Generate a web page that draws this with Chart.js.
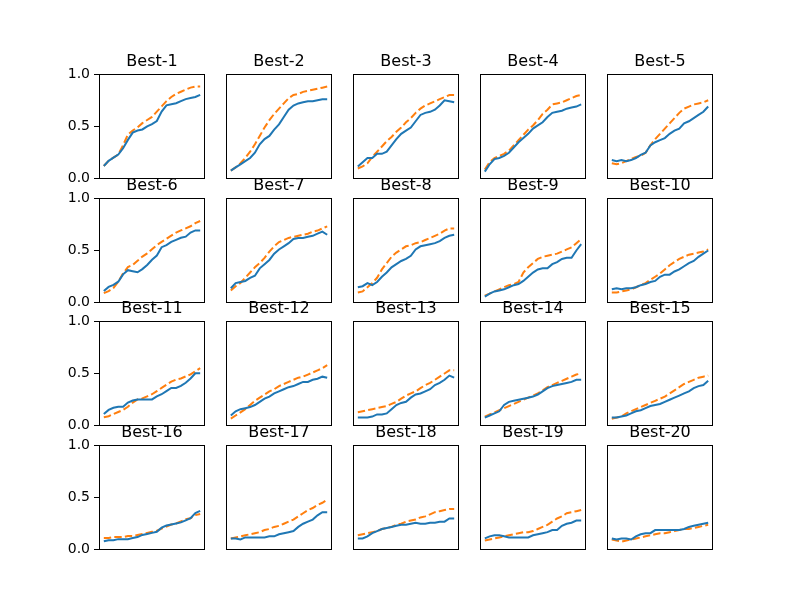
<!DOCTYPE html>
<html>
<head>
<meta charset="utf-8">
<script src="https://cdn.jsdelivr.net/npm/chart.js@4"></script>
<style>
  body { margin: 0; background: #fff; }
  #fig { position: relative; width: 792px; height: 616px; background: #fff; overflow: hidden; }
  #fig canvas { position: absolute; }
</style>
</head>
<body>
<div id="fig"></div>
<script>
// Panel titles
var titles = ['Best-1', 'Best-2', 'Best-3', 'Best-4', 'Best-5',
	'Best-6', 'Best-7', 'Best-8', 'Best-9', 'Best-10',
	'Best-11', 'Best-12', 'Best-13', 'Best-14', 'Best-15',
	'Best-16', 'Best-17', 'Best-18', 'Best-19', 'Best-20'];

var yTicks = [0.0, 0.5, 1.0];

// Solid blue series, one per panel
var blue1 = [0.12,0.17,0.20,0.23,0.29,0.37,0.44,0.46,0.47,0.50,0.52,0.55,0.64,0.70,0.71,0.72,0.74,0.76,0.77,0.78,0.80];
var blue2 = [0.08,0.11,0.14,0.17,0.20,0.25,0.33,0.38,0.41,0.47,0.52,0.59,0.66,0.70,0.72,0.73,0.74,0.74,0.75,0.76,0.76];
var blue3 = [0.12,0.16,0.20,0.20,0.24,0.24,0.26,0.32,0.38,0.43,0.46,0.49,0.55,0.61,0.63,0.64,0.66,0.70,0.75,0.74,0.73];
var blue4 = [0.07,0.14,0.19,0.20,0.22,0.25,0.30,0.35,0.39,0.43,0.48,0.51,0.54,0.59,0.63,0.64,0.65,0.67,0.68,0.69,0.71];
var blue5 = [0.18,0.17,0.18,0.17,0.18,0.20,0.23,0.25,0.32,0.35,0.37,0.39,0.43,0.46,0.48,0.53,0.55,0.58,0.61,0.64,0.69];
var blue6 = [0.11,0.15,0.17,0.20,0.27,0.31,0.30,0.29,0.32,0.36,0.41,0.45,0.53,0.55,0.58,0.60,0.62,0.63,0.67,0.69,0.69];
var blue7 = [0.14,0.19,0.20,0.21,0.24,0.26,0.33,0.37,0.41,0.47,0.51,0.54,0.57,0.61,0.62,0.62,0.63,0.64,0.66,0.68,0.65];
var blue8 = [0.15,0.16,0.19,0.17,0.20,0.25,0.29,0.34,0.37,0.40,0.42,0.45,0.51,0.54,0.55,0.56,0.57,0.59,0.62,0.64,0.65];
var blue9 = [0.06,0.09,0.11,0.12,0.13,0.15,0.17,0.18,0.21,0.25,0.29,0.32,0.33,0.33,0.37,0.39,0.42,0.43,0.43,0.50,0.56];
var blue10 = [0.13,0.14,0.13,0.14,0.14,0.15,0.17,0.18,0.20,0.21,0.25,0.27,0.27,0.30,0.32,0.35,0.38,0.40,0.44,0.47,0.50];
var blue11 = [0.11,0.15,0.17,0.18,0.18,0.22,0.24,0.25,0.25,0.25,0.25,0.28,0.30,0.33,0.36,0.36,0.38,0.41,0.45,0.50,0.50];
var blue12 = [0.10,0.14,0.16,0.17,0.18,0.20,0.23,0.26,0.28,0.31,0.33,0.35,0.37,0.38,0.40,0.42,0.42,0.44,0.45,0.47,0.46];
var blue13 = [0.08,0.08,0.08,0.09,0.11,0.11,0.12,0.16,0.20,0.22,0.23,0.27,0.30,0.31,0.33,0.35,0.39,0.41,0.44,0.48,0.46];
var blue14 = [0.08,0.10,0.12,0.14,0.20,0.23,0.24,0.25,0.26,0.27,0.28,0.30,0.33,0.36,0.38,0.39,0.40,0.41,0.42,0.44,0.44];
var blue15 = [0.08,0.08,0.09,0.10,0.12,0.14,0.15,0.17,0.19,0.20,0.21,0.23,0.25,0.27,0.29,0.31,0.33,0.36,0.38,0.39,0.43];
var blue16 = [0.08,0.09,0.09,0.10,0.10,0.10,0.11,0.12,0.14,0.15,0.16,0.17,0.21,0.23,0.24,0.25,0.26,0.28,0.30,0.35,0.37];
var blue17 = [0.11,0.11,0.10,0.12,0.12,0.12,0.12,0.12,0.13,0.13,0.15,0.16,0.17,0.18,0.22,0.25,0.27,0.29,0.33,0.36,0.36];
var blue18 = [0.11,0.11,0.13,0.16,0.18,0.20,0.21,0.22,0.23,0.24,0.24,0.25,0.26,0.25,0.25,0.26,0.26,0.27,0.27,0.30,0.30];
var blue19 = [0.11,0.13,0.14,0.14,0.13,0.12,0.12,0.12,0.12,0.12,0.14,0.15,0.16,0.17,0.19,0.19,0.23,0.25,0.26,0.28,0.28];
var blue20 = [0.11,0.10,0.11,0.11,0.10,0.13,0.15,0.16,0.16,0.19,0.19,0.19,0.19,0.19,0.19,0.20,0.22,0.23,0.24,0.25,0.26];

// Dashed orange series, one per panel
var orange1 = [0.12,0.17,0.20,0.23,0.32,0.42,0.46,0.49,0.53,0.56,0.59,0.64,0.69,0.74,0.78,0.81,0.83,0.85,0.87,0.88,0.88];
var orange2 = [0.08,0.11,0.15,0.20,0.26,0.33,0.41,0.49,0.56,0.62,0.67,0.72,0.77,0.80,0.81,0.83,0.84,0.85,0.86,0.87,0.88];
var orange3 = [0.10,0.12,0.15,0.21,0.26,0.31,0.36,0.40,0.45,0.49,0.54,0.58,0.63,0.67,0.70,0.72,0.74,0.76,0.78,0.80,0.80];
var orange4 = [0.09,0.16,0.20,0.22,0.24,0.27,0.32,0.37,0.42,0.47,0.51,0.56,0.62,0.66,0.71,0.72,0.73,0.75,0.77,0.79,0.80];
var orange5 = [0.15,0.14,0.15,0.17,0.19,0.21,0.22,0.25,0.32,0.38,0.43,0.48,0.53,0.58,0.63,0.67,0.69,0.71,0.72,0.73,0.75];
var orange6 = [0.09,0.11,0.14,0.20,0.28,0.34,0.36,0.40,0.44,0.47,0.51,0.55,0.58,0.61,0.64,0.67,0.69,0.71,0.73,0.76,0.78];
var orange7 = [0.12,0.16,0.19,0.24,0.29,0.34,0.38,0.43,0.49,0.54,0.58,0.60,0.62,0.63,0.64,0.65,0.66,0.68,0.69,0.71,0.73];
var orange8 = [0.10,0.11,0.15,0.19,0.24,0.32,0.38,0.44,0.48,0.51,0.54,0.55,0.57,0.58,0.60,0.62,0.64,0.66,0.69,0.71,0.71];
var orange9 = [0.07,0.09,0.11,0.13,0.15,0.17,0.18,0.20,0.29,0.34,0.38,0.42,0.44,0.45,0.46,0.47,0.49,0.51,0.53,0.57,0.61];
var orange10 = [0.10,0.10,0.11,0.12,0.13,0.15,0.17,0.19,0.22,0.25,0.28,0.32,0.36,0.39,0.42,0.44,0.46,0.47,0.48,0.49,0.51];
var orange11 = [0.08,0.09,0.11,0.13,0.15,0.18,0.22,0.25,0.26,0.28,0.30,0.33,0.36,0.39,0.42,0.44,0.45,0.47,0.49,0.52,0.55];
var orange12 = [0.07,0.10,0.13,0.16,0.20,0.24,0.27,0.30,0.33,0.35,0.38,0.40,0.42,0.44,0.46,0.47,0.49,0.51,0.53,0.55,0.58];
var orange13 = [0.13,0.14,0.15,0.16,0.17,0.18,0.19,0.21,0.23,0.26,0.29,0.31,0.33,0.36,0.39,0.41,0.44,0.47,0.50,0.53,0.53];
var orange14 = [0.09,0.11,0.13,0.15,0.17,0.19,0.21,0.23,0.25,0.27,0.29,0.31,0.34,0.37,0.39,0.41,0.43,0.45,0.47,0.49,0.50];
var orange15 = [0.07,0.08,0.09,0.12,0.14,0.16,0.18,0.20,0.22,0.24,0.26,0.28,0.31,0.34,0.37,0.40,0.42,0.44,0.46,0.47,0.48];
var orange16 = [0.11,0.11,0.12,0.12,0.12,0.13,0.13,0.14,0.15,0.16,0.17,0.18,0.20,0.22,0.24,0.25,0.27,0.29,0.30,0.33,0.34];
var orange17 = [0.11,0.12,0.13,0.14,0.15,0.16,0.17,0.19,0.20,0.22,0.23,0.25,0.27,0.29,0.32,0.35,0.38,0.40,0.43,0.45,0.48];
var orange18 = [0.14,0.15,0.16,0.17,0.18,0.20,0.21,0.22,0.24,0.25,0.27,0.28,0.29,0.31,0.32,0.34,0.36,0.37,0.38,0.39,0.39];
var orange19 = [0.09,0.10,0.11,0.12,0.13,0.14,0.15,0.16,0.17,0.17,0.18,0.20,0.22,0.24,0.27,0.30,0.32,0.35,0.36,0.37,0.38];
var orange20 = [0.10,0.09,0.08,0.09,0.10,0.11,0.12,0.13,0.14,0.15,0.16,0.16,0.17,0.18,0.19,0.20,0.20,0.21,0.22,0.23,0.24];

var blueSeries = [blue1, blue2, blue3, blue4, blue5, blue6, blue7, blue8, blue9, blue10,
	blue11, blue12, blue13, blue14, blue15, blue16, blue17, blue18, blue19, blue20];
var orangeSeries = [orange1, orange2, orange3, orange4, orange5, orange6, orange7, orange8, orange9, orange10,
	orange11, orange12, orange13, orange14, orange15, orange16, orange17, orange18, orange19, orange20];

// Grid geometry (matplotlib-like subplot layout), whole pixels
var plotW = 106, plotH = 105;
var colLeft = [99, 226, 353, 480, 607];
var rowTop = [74, 198, 321, 445];
var padL = 45, padR = 6, titleH = 22, padB = 12;

// draw the black box round each axes
var framePlugin = {
	id: 'frame',
	afterDraw: function(chart) {
		var a = chart.chartArea, c = chart.ctx;
		c.save();
		c.strokeStyle = '#000';
		c.lineWidth = 1;
		c.strokeRect(Math.round(a.left) + 0.5, Math.round(a.top) + 0.5,
			Math.round(a.right - a.left) - 1, Math.round(a.bottom - a.top) - 1);
		c.restore();
	}
};

var fig = document.getElementById('fig');

titles.forEach(function(title, k) {
	var col = k % 5, row = Math.floor(k / 5);
	var cv = document.createElement('canvas');
	var w = padL + plotW + padR, h = titleH + plotH + padB;
	cv.width = w;
	cv.height = h;
	cv.style.left = (colLeft[col] - padL) + 'px';
	cv.style.top = (rowTop[row] - titleH) + 'px';
	cv.style.width = w + 'px';
	cv.style.height = h + 'px';
	fig.appendChild(cv);

	var toPoints = function(arr) {
		return arr.map(function(v, i) { return { x: i, y: v }; });
	};
	var n = blueSeries[k].length;

	var chart = new Chart(cv.getContext('2d'), {
		type: 'line',
		data: {
			datasets: [{
				data: toPoints(blueSeries[k]),
				borderColor: '#1f77b4',
				borderWidth: 2,
				pointRadius: 0,
				tension: 0
			}, {
				data: toPoints(orangeSeries[k]),
				borderColor: '#ff7f0e',
				borderWidth: 2,
				borderDash: [7.4, 3.2],
				pointRadius: 0,
				tension: 0
			}]
		},
		options: {
			responsive: false,
			animation: false,
			devicePixelRatio: 1,
			layout: {
				autoPadding: false,
				padding: { left: col === 0 ? 0 : padL, right: padR, top: 0, bottom: padB }
			},
			plugins: {
				legend: { display: false },
				tooltip: { enabled: false },
				title: {
					display: true,
					fullSize: false,
					text: title,
					color: '#000',
					font: { family: 'DejaVu Sans', size: 16, weight: 'normal', lineHeight: 1 },
					padding: { top: 2, bottom: 4 }
				}
			},
			scales: {
				x: {
					type: 'linear',
					display: false,
					min: -1,
					max: n
				},
				y: {
					display: col === 0,
					min: 0,
					max: 1,
					afterFit: function(scale) { if (col === 0) scale.width = padL; },
					afterBuildTicks: function(scale) {
						scale.ticks = yTicks.map(function(v) { return { value: v }; });
					},
					border: { display: false },
					grid: { drawOnChartArea: false, drawTicks: true, tickLength: 5, color: '#000' },
					ticks: {
						color: '#000',
						padding: 4,
						font: { family: 'DejaVu Sans', size: 14 },
						callback: function(v) { return v.toFixed(1); }
					}
				}
			}
		},
		plugins: [framePlugin]
	});

	// nudge the padding so the plot box lands exactly on the wanted pixels
	var a = chart.chartArea;
	var pad = chart.options.layout.padding;
	var dBottom = (titleH + plotH) - a.bottom;
	var dTop = a.top - titleH;
	if (dBottom !== 0 || dTop !== 0) {
		pad.bottom = Math.max(0, pad.bottom - dBottom);
		pad.top = Math.max(0, pad.top - dTop);
		chart.update();
	}
});
</script>
</body>
</html>
